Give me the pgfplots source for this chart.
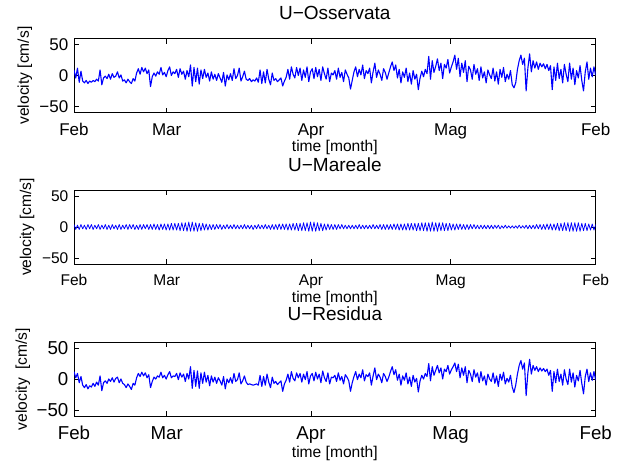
\documentclass[border=0pt]{standalone}
\usepackage{pgfplots}
\pgfplotsset{compat=1.18}
\usepackage{pgfplotstable}
\usepackage{fontspec}
\setmainfont{Liberation Sans}

\pgfplotstableread[row sep=\\]{y\\
9\\ -4\\ 12\\ -11\\ 7\\ -9\\ -12\\ -8\\ -13\\ -9\\
-11\\ -8\\ -10\\ -6\\ -9\\ 9\\ -15\\ -4\\ -1\\ -5\\
2\\ -6\\ 3\\ -3\\ -1\\ 6\\ -4\\ 1\\ -9\\ -7\\
-12\\ -6\\ -10\\ -13\\ -5\\ -9\\ 4\\ 11\\ 2\\ 13\\
6\\ 12\\ 3\\ 9\\ -18\\ -2\\ 4\\ -1\\ 6\\ 2\\
13\\ 1\\ 5\\ -2\\ 8\\ 14\\ 0\\ 6\\ 3\\ 10\\
-3\\ 11\\ 2\\ 7\\ -6\\ 8\\ -2\\ 17\\ -17\\ 13\\
-10\\ 12\\ -14\\ 9\\ -5\\ 10\\ -3\\ 4\\ -9\\ 6\\
-6\\ 2\\ -8\\ 3\\ -4\\ -11\\ 5\\ -17\\ 1\\ -7\\
3\\ -8\\ 11\\ -5\\ 0\\ 12\\ -9\\ -2\\ 7\\ -6\\
-8\\ -5\\ -10\\ -7\\ -9\\ -4\\ -11\\ 9\\ -13\\ 6\\
-12\\ 10\\ -6\\ -15\\ 4\\ -8\\ -5\\ -10\\ -7\\ -4\\
-17\\ -9\\ -3\\ 10\\ -6\\ 14\\ 2\\ -4\\ 13\\ 0\\
12\\ -8\\ 9\\ -3\\ 14\\ -10\\ 6\\ 11\\ -5\\ 13\\
-2\\ 10\\ -8\\ 14\\ 3\\ -6\\ 12\\ -10\\ 4\\ 1\\
8\\ -6\\ 12\\ -3\\ 5\\ -10\\ 9\\ 2\\ -4\\ -22\\
-8\\ 6\\ 14\\ -2\\ 10\\ 1\\ 17\\ -5\\ 8\\ 3\\
12\\ -12\\ 6\\ 20\\ -3\\ 9\\ 2\\ -8\\ 11\\ 5\\
-6\\ 4\\ 14\\ 22\\ 8\\ 17\\ -4\\ 10\\ -12\\ 6\\
-3\\ 12\\ -10\\ 4\\ -14\\ 8\\ -6\\ 2\\ -23\\ -4\\
7\\ -2\\ 10\\ 3\\ 31\\ -6\\ 24\\ 5\\ 15\\ 27\\
8\\ 20\\ -5\\ 18\\ 12\\ 26\\ 4\\ 14\\ 22\\ 33\\
10\\ 28\\ -2\\ 20\\ 5\\ 24\\ -10\\ 15\\ 9\\ -6\\
18\\ 2\\ 11\\ -8\\ 14\\ -4\\ 6\\ -12\\ 9\\ 1\\
-5\\ 12\\ -9\\ 6\\ -14\\ 10\\ -3\\ 13\\ -10\\ 2\\
-6\\ 8\\ -15\\ -20\\ -12\\ 10\\ 24\\ 33\\ 18\\ 28\\
-25\\ 12\\ 35\\ 6\\ 24\\ 12\\ 22\\ 10\\ 20\\ 14\\
19\\ 11\\ 18\\ 8\\ 16\\ -23\\ 14\\ -8\\ 20\\ -5\\
10\\ -12\\ 18\\ 2\\ -10\\ 20\\ -6\\ 12\\ -15\\ 8\\
-4\\ 16\\ -8\\ -25\\ 6\\ 22\\ -6\\ 12\\ -2\\ 14\\
0\\
}\tobs

\pgfplotstableread[row sep=\\]{y\\
4\\ -4\\ 3\\ -4\\ 4\\ -3\\ 3\\ -4\\ 4\\ -3\\
4\\ -4\\ 3\\ -3\\ 4\\ -4\\ 3\\ -3\\ 4\\ -4\\
3\\ -4\\ 4\\ -3\\ 3\\ -4\\ 4\\ -4\\ 3\\ -3\\
4\\ -4\\ 4\\ -3\\ 4\\ -4\\ 3\\ -4\\ 4\\ -4\\
4\\ -3\\ 4\\ -4\\ 4\\ -4\\ 5\\ -4\\ 4\\ -5\\
5\\ -4\\ 5\\ -5\\ 5\\ -5\\ 6\\ -5\\ 6\\ -5\\
6\\ -6\\ 7\\ -6\\ 7\\ -7\\ 8\\ -7\\ 8\\ -7\\
7\\ -7\\ 6\\ -6\\ 6\\ -5\\ 5\\ -5\\ 4\\ -4\\
4\\ -4\\ 4\\ -3\\ 4\\ -4\\ 3\\ -3\\ 4\\ -3\\
3\\ -3\\ 4\\ -3\\ 3\\ -3\\ 3\\ -3\\ 4\\ -3\\
3\\ -3\\ 3\\ -4\\ 3\\ -3\\ 4\\ -3\\ 3\\ -3\\
4\\ -3\\ 3\\ -4\\ 4\\ -4\\ 4\\ -4\\ 5\\ -4\\
5\\ -4\\ 5\\ -5\\ 5\\ -5\\ 6\\ -5\\ 6\\ -6\\
6\\ -6\\ 7\\ -6\\ 7\\ -7\\ 8\\ -7\\ 8\\ -7\\
7\\ -6\\ 6\\ -6\\ 5\\ -5\\ 5\\ -4\\ 4\\ -4\\
4\\ -4\\ 4\\ -3\\ 4\\ -3\\ 3\\ -3\\ 3\\ -3\\
3\\ -3\\ 3\\ -3\\ 4\\ -3\\ 3\\ -3\\ 3\\ -3\\
3\\ -3\\ 4\\ -3\\ 3\\ -3\\ 4\\ -4\\ 4\\ -4\\
4\\ -4\\ 4\\ -4\\ 5\\ -4\\ 5\\ -5\\ 5\\ -5\\
5\\ -5\\ 6\\ -5\\ 6\\ -5\\ 6\\ -6\\ 6\\ -6\\
7\\ -6\\ 7\\ -7\\ 7\\ -7\\ 8\\ -7\\ 7\\ -7\\
7\\ -6\\ 7\\ -6\\ 6\\ -6\\ 6\\ -5\\ 5\\ -5\\
5\\ -4\\ 5\\ -4\\ 4\\ -4\\ 4\\ -4\\ 4\\ -3\\
4\\ -3\\ 3\\ -3\\ 3\\ -3\\ 3\\ -3\\ 3\\ -3\\
3\\ -3\\ 3\\ -2\\ 3\\ -3\\ 2\\ -2\\ 3\\ -2\\
2\\ -2\\ 2\\ -2\\ 2\\ -2\\ 3\\ -2\\ 2\\ -2\\
3\\ -3\\ 3\\ -3\\ 3\\ -3\\ 4\\ -3\\ 4\\ -4\\
4\\ -4\\ 5\\ -4\\ 5\\ -5\\ 5\\ -5\\ 6\\ -6\\
6\\ -6\\ 7\\ -6\\ 7\\ -7\\ 7\\ -7\\ 7\\ -7\\
7\\ -7\\ 6\\ -6\\ 6\\ -6\\ 5\\ -5\\ 5\\ -5\\
4\\
}\ttide

\pgfplotstableread[row sep=\\]{y\\
12\\ 2\\ 9\\ -6\\ 4\\ -10\\ -14\\ -9\\ -16\\ -11\\
-13\\ -7\\ -12\\ -5\\ -10\\ 5\\ -19\\ -6\\ -3\\ -7\\
0\\ -4\\ 2\\ -5\\ 1\\ 3\\ -6\\ 0\\ -7\\ -9\\
-14\\ -8\\ -12\\ -17\\ -7\\ -10\\ 2\\ 9\\ 4\\ 11\\
5\\ 10\\ 2\\ 7\\ -14\\ -4\\ 3\\ 0\\ 5\\ 3\\
11\\ 2\\ 6\\ 0\\ 7\\ 12\\ 2\\ 5\\ 4\\ 9\\
-1\\ 10\\ 3\\ 8\\ -4\\ 9\\ 0\\ 20\\ -15\\ 14\\
-12\\ 13\\ -15\\ 10\\ -7\\ 11\\ -5\\ 6\\ -11\\ 5\\
-5\\ 3\\ -7\\ 2\\ -3\\ -10\\ 4\\ -16\\ 0\\ -6\\
2\\ -7\\ 9\\ -4\\ -1\\ 10\\ -8\\ -3\\ 5\\ -5\\
-9\\ -8\\ -9\\ -10\\ -9\\ -8\\ -10\\ 6\\ -12\\ 4\\
-10\\ 8\\ -5\\ -14\\ 3\\ -7\\ -4\\ -9\\ -6\\ -3\\
-20\\ -8\\ -2\\ 8\\ -5\\ 12\\ 1\\ -3\\ 10\\ 2\\
9\\ -5\\ 8\\ -1\\ 12\\ -8\\ 5\\ 9\\ -3\\ 11\\
0\\ 8\\ -6\\ 13\\ 2\\ -4\\ 10\\ -8\\ 3\\ 2\\
6\\ -4\\ 10\\ -2\\ 4\\ -8\\ 7\\ 3\\ -3\\ -20\\
-6\\ 4\\ 12\\ -1\\ 8\\ 2\\ 15\\ -3\\ 7\\ 4\\
10\\ -10\\ 5\\ 18\\ -1\\ 8\\ 3\\ -6\\ 9\\ 4\\
-4\\ 3\\ 12\\ 20\\ 7\\ 15\\ -2\\ 8\\ -10\\ 5\\
-2\\ 10\\ -8\\ 3\\ -12\\ 6\\ -5\\ 1\\ -21\\ -3\\
6\\ 0\\ 9\\ 4\\ 25\\ -3\\ 20\\ 6\\ 14\\ 22\\
10\\ 18\\ 0\\ 16\\ 12\\ 22\\ 8\\ 15\\ 20\\ 26\\
12\\ 24\\ 2\\ 18\\ 6\\ 20\\ -6\\ 14\\ 8\\ -4\\
15\\ 3\\ 10\\ -6\\ 12\\ -3\\ 5\\ -10\\ 8\\ 0\\
-4\\ 10\\ -7\\ 5\\ -12\\ 8\\ -2\\ 11\\ -8\\ 1\\
-5\\ 6\\ -13\\ -22\\ -10\\ 8\\ 22\\ 30\\ 16\\ 26\\
-27\\ 10\\ 32\\ 8\\ 22\\ 14\\ 20\\ 12\\ 18\\ 13\\
17\\ 12\\ 16\\ 6\\ 14\\ -20\\ 12\\ -6\\ 16\\ -4\\
8\\ -10\\ 15\\ 0\\ -9\\ 16\\ -5\\ 10\\ -13\\ 6\\
-3\\ 14\\ -7\\ -24\\ 4\\ 16\\ -4\\ 10\\ -2\\ 12\\
-2\\
}\tres

\pgfplotsset{
  mystyle/.style={
    scale only axis,
    width=521.7bp, height=74bp,
    anchor=north west,
    xmin=0, xmax=150, ymin=-60, ymax=60,
    xtick={0,26.65,68.14,108.3,150},
    xticklabels={Feb,Mar,Apr,Mag,Feb},
    ytick={-50,0,50},
    yticklabels={−50,0,50},
    tick align=inside,
    major tick length=5bp,
    tick style={black, line width=0.6bp},
    axis line style={black, line width=0.9bp},
    yticklabel style={anchor=east, inner sep=0pt, xshift=-5.5bp},
    xlabel={time [month]},
    ylabel={velocity [cm/s]},
    label style={font=\fontsize{15.6bp}{18bp}\selectfont},
    title style={font=\fontsize{19bp}{22bp}\selectfont, anchor=center},
  },
  myline/.style={blue, line width=1.1bp, no markers, line join=round},
}

\begin{document}
\begin{tikzpicture}
\useasboundingbox (0,0) rectangle (621bp,-464bp);
\fill[white] (0,0) rectangle (621bp,-464bp);

\begin{axis}[mystyle,
  at={(74bp,-38.5bp)},
  title={U−Osservata},
  title style={at={(axis description cs:0.5,1.265)}},
  ticklabel style={font=\fontsize{17bp}{20bp}\selectfont},
  xticklabel style={anchor=base, inner sep=0pt, yshift=-23bp},
  xlabel style={at={(axis description cs:0.5,-0.475)}, anchor=center},
  ylabel style={at={(axis description cs:-0.094,0.5)}, anchor=center},
]
\addplot[myline] table[x expr=\coordindex*0.5, y index=0] {\tobs};
\end{axis}

\begin{axis}[mystyle,
  at={(74bp,-190bp)},
  title={U−Mareale},
  title style={at={(axis description cs:0.5,1.257)}},
  ticklabel style={font=\fontsize{15.5bp}{18bp}\selectfont},
  xticklabel style={anchor=base, inner sep=0pt, yshift=-21.4bp},
  xlabel style={at={(axis description cs:0.5,-0.46)}, anchor=center},
  ylabel style={at={(axis description cs:-0.090,0.5)}, anchor=center},
]
\addplot[myline, line width=0.75bp] table[x expr=\coordindex*0.5, y index=0] {\ttide};
\end{axis}

\begin{axis}[mystyle,
  at={(74bp,-342bp)},
  title={U−Residua},
  title style={at={(axis description cs:0.5,1.297)}},
  ticklabel style={font=\fontsize{18.7bp}{22bp}\selectfont},
  xticklabel style={anchor=base, inner sep=0pt, yshift=-23.7bp},
  xlabel style={at={(axis description cs:0.5,-0.5)}, anchor=center},
  ylabel style={at={(axis description cs:-0.098,0.5)}, anchor=center},
  ylabel={velocity\ \ [cm/s]},
]
\addplot[myline] table[x expr=\coordindex*0.5, y index=0] {\tres};
\end{axis}
\end{tikzpicture}
\end{document}
